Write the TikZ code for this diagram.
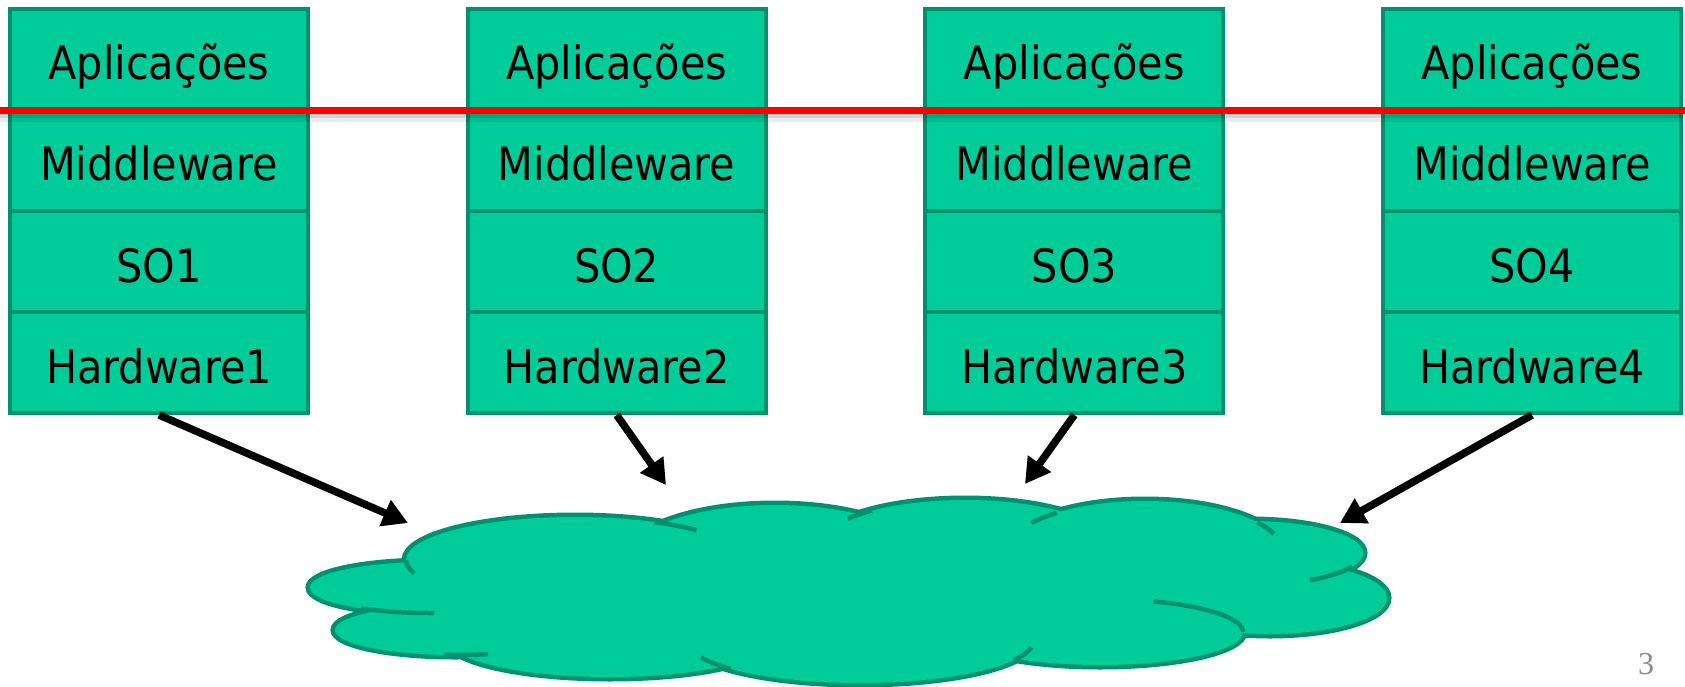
\documentclass[tikz,border=0pt]{standalone}
\usepackage{fontspec}
\setmainfont{DejaVu Sans Condensed}
\newfontfamily\pagefont{Liberation Serif}
\usetikzlibrary{arrows.meta}
\definecolor{boxfill}{RGB}{0,204,153}
\definecolor{boxline}{RGB}{0,145,110}
\definecolor{pagegray}{RGB}{140,140,140}
\begin{document}
\begin{tikzpicture}[x=1pt,y=-1pt,
  rowbox/.style={draw=boxline, fill=boxfill, line width=4pt, minimum width=298pt,
    minimum height=101pt, inner sep=0pt, text height=61pt, text depth=20pt,
    font=\fontsize{46}{54}\selectfont},
  link/.style={line width=7.5pt, -{Triangle[length=25pt,width=27pt]}},
  linkshadow/.style={link, draw=black, fill=black, opacity=0.16, xshift=2pt, yshift=-4pt},
  cloudrim/.style={draw=boxline, line width=9pt},
  cloudfill/.style={fill=boxfill},
  cloudline/.style={draw=boxline, line width=4.5pt}
]
\useasboundingbox (0,0) rectangle (1685,687);

% stacks
\foreach \i in {1,...,4}{
  \pgfmathsetmacro\cx{159+457.667*(\i-1)}
  \node[rowbox] (app\i) at (\cx,59.5) {Aplicações};
  \node[rowbox] (mw\i) at (\cx,160.5) {Middleware};
  \node[rowbox] (so\i) at (\cx,261.5) {SO\i};
  \node[rowbox] (hw\i) at (\cx,362.5) {Hardware\i};
}

% red separator with soft shadow
\draw[black, opacity=0.08, line width=8pt] (0,118) -- (1685,118);
\draw[black, opacity=0.10, line width=4pt] (0,116) -- (1685,116);
\draw[red, line width=7pt] (0,111) -- (1685,111);

% cloud
\foreach \cx/\cy/\rx/\ry in {430/587.5/120/25.5, 455/630/120/25, 575/560/169/43,
  775/560/150/55, 965/550/151/50, 1145/551/137/50, 1250/553/113/32,
  1270/598/117/36, 1100/632/143/33, 860/640/174/43, 610/640/162/37}
  \draw[cloudrim] (\cx,\cy) ellipse [x radius=\rx, y radius=\ry];
\foreach \cx/\cy/\rx/\ry in {430/587.5/120/25.5, 455/630/120/25, 575/560/169/43,
  775/560/150/55, 965/550/151/50, 1145/551/137/50, 1250/553/113/32,
  1270/598/117/36, 1100/632/143/33, 860/640/174/43, 610/640/162/37, 850/590/380/55}
  \fill[cloudfill] (\cx,\cy) ellipse [x radius=\rx, y radius=\ry];
\foreach \cx/\cy/\rx/\ry/\a/\b in {575/560/169/43/180/162, 575/560/169/43/-62/-44,
  430/587.5/120/25.5/125/88, 455/630/120/25/95/74, 860/640/174/43/156/138,
  860/640/174/43/28/10, 965/550/151/50/-128/-141, 1145/551/137/50/-130/-146,
  1145/551/137/50/-35/-20, 1250/553/113/32/25/58, 1100/632/143/33/-68/0}
  \draw[cloudline] ({\cx+\rx*cos(\a)},{\cy+\ry*sin(\a)}) arc[start angle=\a, end angle=\b, x radius=\rx, y radius=\ry];

% arrow targets
\coordinate (t1) at (408,523);
\coordinate (t2) at (666,485);
\coordinate (t3) at (1025,484);
\coordinate (t4) at (1340,523);

% arrows
\foreach \i in {1,...,4}{
  \draw[linkshadow] (hw\i.south) -- (t\i);
  \draw[link] (hw\i.south) -- (t\i);
}

% page number
\node[font=\pagefont\fontsize{32}{32}\selectfont, text=pagegray] (pg) at (1646,664) {3};
\end{tikzpicture}
\end{document}
